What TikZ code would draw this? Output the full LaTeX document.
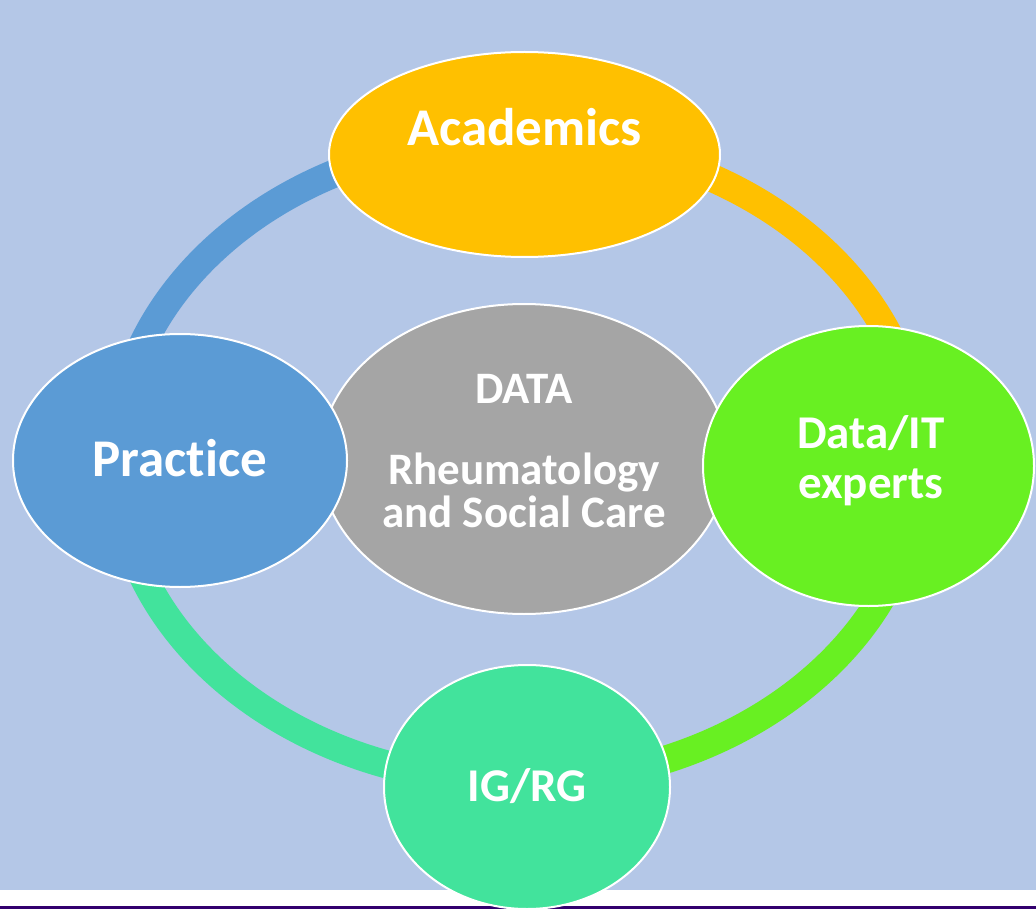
\documentclass[tikz,border=0pt]{standalone}
\usepackage{fontspec}
\setmainfont{Carlito}[Ligatures={NoCommon}]
\usetikzlibrary{shapes.geometric}
\definecolor{bgblue}{HTML}{B4C7E7}
\definecolor{barpurple}{HTML}{32006E}
\definecolor{pblue}{HTML}{5B9BD5}
\definecolor{pgold}{HTML}{FFC000}
\definecolor{plime}{HTML}{68F022}
\definecolor{pteal}{HTML}{42E39C}
\definecolor{pgray}{HTML}{A5A5A5}
\begin{document}
\begin{tikzpicture}[x=1pt,y=-1pt,
  bubble/.style={ellipse, draw=white, line width=2pt, inner sep=0pt, outer sep=0pt, text=white},
  ringarc/.style={line width=28pt, line cap=butt}]
\useasboundingbox (0,0) rectangle (1036,909);
\fill[bgblue] (0,0) rectangle (1036,890);
\fill[white] (0,890) rectangle (1036,906);
\fill[barpurple] (0,906) rectangle (1036,909);

% ring
\coordinate (rL) at (116,460);
\coordinate (rT) at (518,138);
\coordinate (rR) at (920,460);
\coordinate (rB) at (518,782);
\draw[ringarc, draw=pblue] (rL) arc[start angle=180, end angle=270, x radius=402, y radius=322];
\draw[ringarc, draw=pgold] (rT) arc[start angle=270, end angle=360, x radius=402, y radius=322];
\draw[ringarc, draw=plime] (rR) arc[start angle=0, end angle=90, x radius=402, y radius=322];
\draw[ringarc, draw=pteal] (rB) arc[start angle=90, end angle=180, x radius=402, y radius=322];

% centre
\node[bubble, fill=pgray, minimum width=408pt, minimum height=310pt,
  font=\bfseries\fontsize{45}{38}\selectfont] (core) at (524,459)
  {\raisebox{-68pt}[0pt][0pt]{\begin{tabular}[b]{@{}c@{}}DATA\\[38pt]Rheumatology\\and Social Care\end{tabular}}};

% outer
\node[bubble, fill=pgold, minimum width=391pt, minimum height=205pt,
  font=\bfseries\fontsize{53}{60}\selectfont] (acad) at (524.5,154.5)
  {\raisebox{8.5pt}[0pt][0pt]{Academics}};
\node[bubble, fill=pblue, minimum width=334pt, minimum height=253pt,
  font=\bfseries\fontsize{53}{60}\selectfont] (prac) at (180,460.5)
  {\raisebox{-15.5pt}[0pt][0pt]{Practice}};
\node[bubble, fill=plime, minimum width=331pt, minimum height=280pt,
  font=\bfseries\fontsize{47}{50}\selectfont] (dit) at (868.5,466)
  {\raisebox{-32pt}[0pt][0pt]{\hspace*{5pt}\begin{tabular}[b]{@{}c@{}}Data/IT\\experts\end{tabular}}};
\node[bubble, fill=pteal, minimum width=286pt, minimum height=244pt,
  font=\bfseries\fontsize{47}{50}\selectfont] (igrg) at (527,787)
  {\raisebox{-14.5pt}[0pt][0pt]{IG/RG}};
\end{tikzpicture}
\end{document}
